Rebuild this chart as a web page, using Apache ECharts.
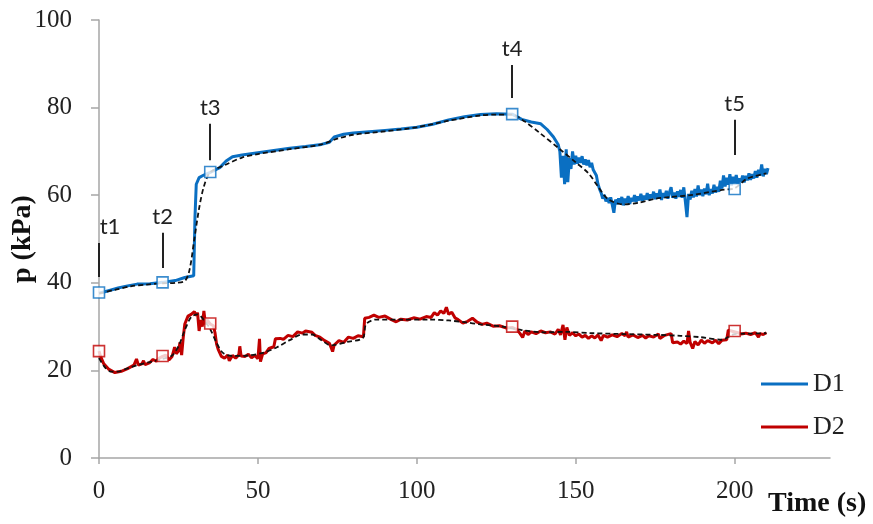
<!DOCTYPE html>
<html>
<head>
<meta charset="utf-8">
<script src="https://cdn.jsdelivr.net/npm/echarts@6/dist/echarts.min.js"></script>
<style>
  html, body { margin: 0; padding: 0; background: #fff; }
  #chart { width: 873px; height: 524px; }
</style>
</head>
<body>
<div id="chart"></div>
<script>
// measured D1 pressure, [time s, kPa]
const d1Raw = [
  [0,37.6],[3,38.2],[6,38.8],[9,39.3],[12,39.7],[16,39.8],[20,40.1],[24,40.5],[27,41.2],[29.8,41.6],
  [30.2,55],[30.6,62.5],[31.5,64],[33,64.6],[35,65.2],[38,66.3],[40,67.8],[42,68.8],[45,69.2],[50,69.7],
  [55,70.2],[60,70.7],[65,71.1],[70,71.6],[72.5,72.1],[74,73.3],[77,73.9],[80,74.2],[85,74.5],[90,74.8],
  [95,75.1],[100,75.5],[105,76.2],[110,77.2],[115,77.9],[120,78.4],[125,78.6],[130,78.5],[133,77.3],
  [136,76.7],[139,76.3],[141,75],[143,73.3],[144.5,71.5],[145,70],[145.5,64],[146,69],[146.5,62.5],
  [147,70.5],[147.5,63],[148,68.5],[148.5,66],[149,70],[149.5,67],[150,69],[150.5,67.2],[151,68.6],
  [151.5,67.4],[152,68.9],[152.5,67],[153,68.2],[153.5,66.8],[154,68],[154.5,66.4],[155,67.4],
  [155.5,65.8],[156,66.2],[156.5,64.5],[157,62.5],[157.5,61.4],
  [158,60.5],[158.5,59.2],[159,60.1],[159.5,58.6],[160,59.4],[160.5,58.2],[161,59.5],[161.5,57.8],
  [162,56],[162.5,59],[163,57.9],[163.5,59.3],[164,58.1],[164.5,59.6],[165,57.7],[165.5,59.2],
  [166,58.3],[166.5,59.8],[167,58],[167.5,59.4],[168,58.6],[168.5,60],[169,58.4],[169.5,59.7],
  [170,58.8],[170.5,60.3],[171,58.7],[171.5,59.9],[172,59],[172.5,60.5],[173,58.9],[173.5,60.2],
  [174,59.3],[174.5,60.8],[175,59.1],[175.5,60.4],[176,59.4],[176.5,61.3],[177,58.9],[177.5,60.5],
  [178,59.5],[178.5,61],[179,59.2],[179.5,60.7],[180,61.8],[180.5,59.4],[181,60.6],[181.5,59.2],
  [182,60.9],[182.5,59.6],[183,61.2],[183.5,59.4],[184,61.8],[184.5,58.5],[185,55],[185.5,60.3],
  [186,59],[186.5,61],[187,59.5],[187.5,61.4],[188,59.7],[188.5,62.2],[189,60],[189.5,61.3],
  [190,59.8],[190.5,61.5],[191,60.2],[191.5,62.6],[192,60],[192.5,61.4],[193,60.4],[193.5,62.4],
  [194,60.6],[194.5,61.9],[195,60.8],[195.5,63.3],[196,61.5],[196.5,64.5],[197,62],[197.5,64],
  [198,62.4],[198.5,64.8],[199,62.2],[199.5,64.2],[200,62.8],[200.5,64.6],[201,62.6],[201.5,63.8],
  [202,63],[202.5,64.5],[203,62.9],[203.5,64.4],[204,63.4],[204.5,65],[205,63.5],[205.5,64.8],
  [206,63.8],[206.5,65.5],[207,64],[207.5,65.8],[208,64.5],[208.5,67],[209,64.3],[209.5,66],
  [210,64.8],[210.5,66.2]
];

// fitted D1 trend (dashed)
const d1Fit = [
  [0,37.6],[5,38.4],[10,39.2],[15,39.6],[20,39.9],[24,40],[27,40.4],[28.5,43],[30,50],[31.5,57],
  [33,62],[35,65.2],[40,67],[45,68.6],[50,69.4],[60,70.5],[70,71.6],[75,72.9],[80,73.8],[90,74.6],
  [100,75.5],[110,77],[120,78.2],[125,78.4],[130,78.4],[134,76.8],[138.7,74.2],[145,70.5],[150,67.5],
  [154,65],[157,62],[160,59.2],[165,57.9],[170,58.3],[175,59.2],[180,59.6],[186,60],[196,61.2],
  [200,61.6],[204,63.8],[210,65]
];

// measured D2 pressure
const d2Raw = [
  [0,24.4],[0.5,23.2],[1.5,21.5],[3,20.3],[5,19.5],[7,19.8],[9,20.4],[11,21.2],[11.8,22.6],[12.4,21.2],
  [13.5,21.5],[14,22.2],[14.5,21.3],[16,21.8],[17,22.5],[18,22.1],[19,22.8],[20,23.2],[21,23.5],[22,22.4],
  [23,23.2],[23.8,25.3],[24.3,23.8],[25,24.4],[25.5,26.4],[26,23.5],[26.5,27.5],[27,30.6],[28,32.4],
  [29,32.8],[30,33.4],[30.6,32.5],[31,33.2],[31.5,29],[32,31.5],[32.5,30],[33,33.6],[33.5,30.5],[34,31.5],
  [35,30.6],[36,30.2],[36.5,28.6],[37,26],[37.5,24.8],[38.5,23.2],[39.5,22.8],[40.5,23.5],[41,22.2],
  [42,23.4],[43,22.8],[44,23.6],[44.3,25.5],[44.7,23.3],[46,23.2],[47,23.7],[48,22.9],[49,23.4],[50,22.7],
  [50.5,27.2],[50.8,22],[51.5,23.8],[52.5,24],[53.5,25],[55,25.4],[55.5,27.2],[57,27.3],[58,27.1],
  [59.5,28],[61,27.7],[62.5,28.8],[64,28.5],[65,29],[67,28.7],[68,28],[69.5,27.6],[71,26.8],[72.5,26.2],
  [73.5,24.3],[74,25.8],[75.5,26.8],[77,26.4],[78.5,27.6],[80,27.3],[81.5,27.9],[83.2,27.7],[83.6,31.9],
  [85,32.1],[86.5,32.6],[88,32.1],[90,32.4],[92,31.6],[93.5,31.1],[95,31.7],[97,31.5],[99,32],[101,31.7],
  [103,32.3],[104.5,32.1],[105.5,33.2],[106.5,32.6],[107.5,33.6],[108.5,33],[109.3,34.4],[110,32.8],
  [111,33.3],[112,32],[113,31.6],[114.5,30.8],[116,31.2],[117.5,31.9],[119,31],[120.5,30.5],[122,30.8],
  [124,30.1],[126,30.2],[128,29.7],[130,29.8],[131.5,29.3],[132.5,28.4],[133.3,27.5],[134,29],[135,28.2],
  [136,28.8],[137.5,28.4],[139,29],[140.5,28.6],[142,28.8],[143.5,28.3],[144.5,29.4],[145.2,28.1],
  [146,30.4],[146.6,27],[147.2,29.8],[148,28],[149,28.6],[150,27.9],[151,28.3],[152,27.6],[153,28],
  [154,27.3],[155,27.9],[156,27.4],[157,28.1],[158,26.8],[158.7,28],[160,27.6],[161.5,28.1],[163,27.7],
  [164.5,28.4],[165.5,27.9],[166,28.8],[166.5,27.6],[168,28.1],[169.5,27.5],[171,28],[172,27.4],
  [173,27.9],[174.5,27.6],[176,28.3],[176.5,27.3],[178,28],[180,28.4],[180.5,26.3],[182,26.5],[183,26],
  [184,26.7],[185,26.1],[185.5,29],[186,26.4],[186.8,25],[187.5,26.6],[188.5,25.8],[189.5,26.9],
  [190.5,26.2],[191.5,26.8],[193,26.3],[194,26.9],[195,26.1],[196,26.9],[197.5,27],[198,29.2],[199,29],
  [201,28.6],[202,28.3],[203.5,28.5],[205,28.2],[206.5,28.6],[207.5,27.6],[208,28.4],[209,28.2],[210,28.6]
];

// fitted D2 trend (dashed)
const d2Fit = [
  [0,22.8],[2,20.6],[4,19.7],[6,19.7],[8,20.2],[12,21.2],[16,21.9],[20,22.6],[23,23.4],[25,25.5],
  [27,29.2],[29,32.2],[31,32.8],[33,31.5],[35,29.4],[37,26.3],[39,24],[42,23.3],[47,23.4],[52,24.1],
  [56,25.3],[60,26.9],[64,28.2],[67,28.2],[70,26.9],[73,25.7],[78,26.5],[83,27.4],[84,30.5],[87,31.6],
  [95,31.6],[104,31.6],[110,31.4],[115,31],[120,30.5],[127,30],[133,29.2],[140,28.7],[147,28.8],
  [155,28.5],[165,28.3],[176,28.1],[183,27.9],[189,27.6],[196,27],[200,28.3],[205,28.4],[210,28.5]
];

// hollow square markers at t1..t5
const markTimes = [0, 20, 35, 130, 200];
const d1Marks = [37.8, 40.1, 65.3, 78.5, 61.4];
const d2Marks = [24.4, 23.3, 30.7, 30.0, 29.0];

// t1..t5 annotation ticks (values in kPa)
const tNames = ["t1", "t2", "t3", "t4", "t5"];
const tLow = [41.3, 43.4, 68.0, 82.2, 69.2];
const tHigh = [49.1, 51.4, 76.3, 89.7, 77.2];

const xTicks = [0, 50, 100, 150, 200];

const blue = "#0a6fc2";
const red = "#c00000";
const serif = "'Liberation Serif', 'Times New Roman', serif";

const chart = echarts.init(document.getElementById("chart"));

const tLines = tNames.map(function (n, i) {
  return [
    { coord: [markTimes[i], tLow[i]] },
    {
      coord: [markTimes[i], tHigh[i]],
      label: { formatter: n, offset: i === 0 ? [11, 0] : [0, 0] }
    }
  ];
});

chart.setOption({
  animation: false,
  grid: { left: 99, right: 43, top: 20, bottom: 66, containLabel: false, outerBoundsMode: "none" },
  legend: {
    data: ["D1", "D2"],
    orient: "vertical",
    left: 756,
    top: 366,
    icon: "rect",
    itemWidth: 47,
    itemHeight: 3,
    itemGap: 17,
    textStyle: { fontFamily: serif, fontSize: 26, color: "#222" }
  },
  xAxis: {
    type: "value",
    min: 0,
    max: 230,
    interval: 50,
    splitLine: { show: false },
    axisLine: { lineStyle: { color: "#a6a6a6", width: 1.5 } },
    axisTick: { length: 6, lineStyle: { color: "#a6a6a6", width: 1.5 }, customValues: xTicks },
    axisLabel: { customValues: xTicks, fontFamily: serif, fontSize: 25, color: "#222", margin: 21 },
    name: "Time (s)",
    nameLocation: "end",
    nameGap: -62,
    nameMoveOverlap: false,
    nameTextStyle: {
      fontFamily: serif, fontSize: 28, fontWeight: "bold", color: "#111",
      align: "left", verticalAlign: "top", padding: [32, 0, 0, 0]
    }
  },
  yAxis: {
    type: "value",
    min: 0,
    max: 100,
    interval: 20,
    splitLine: { show: false },
    axisLine: { show: true, lineStyle: { color: "#a6a6a6", width: 1.5 } },
    axisTick: { show: true, length: 8, lineStyle: { color: "#a6a6a6", width: 1.5 } },
    axisLabel: { fontFamily: serif, fontSize: 25, color: "#222", margin: 27 },
    name: "p (kPa)",
    nameLocation: "middle",
    nameGap: 62,
    nameMoveOverlap: false,
    nameTextStyle: { fontFamily: serif, fontSize: 28, fontWeight: "bold", color: "#111" }
  },
  series: [
    {
      name: "D1",
      type: "line",
      data: d1Raw,
      symbol: "none",
      color: blue,
      lineStyle: { color: blue, width: 3 }
    },
    {
      name: "D2",
      type: "line",
      data: d2Raw,
      symbol: "none",
      color: red,
      lineStyle: { color: red, width: 3 }
    },
    {
      name: "D1 fit",
      type: "line",
      data: d1Fit,
      symbol: "none",
      smooth: 0.3,
      lineStyle: { color: "#111", width: 1.8, type: [5, 3] }
    },
    {
      name: "D2 fit",
      type: "line",
      data: d2Fit,
      symbol: "none",
      smooth: 0.3,
      lineStyle: { color: "#111", width: 1.8, type: [5, 3] }
    },
    {
      name: "D1 marks",
      type: "scatter",
      data: markTimes.map(function (t, i) { return [t, d1Marks[i]]; }),
      symbol: "rect",
      symbolSize: 11,
      z: 5,
      itemStyle: { color: "#fff", borderColor: blue, borderWidth: 1.6 },
      markLine: {
        silent: true,
        symbol: "none",
        animation: false,
        lineStyle: { color: "#222", width: 2, type: "solid" },
        label: {
          show: true,
          position: "end",
          distance: 5,
          fontFamily: "Lato, 'Open Sans', sans-serif",
          fontSize: 22,
          color: "#222"
        },
        data: tLines
      }
    },
    {
      name: "D2 marks",
      type: "scatter",
      data: markTimes.map(function (t, i) { return [t, d2Marks[i]]; }),
      symbol: "rect",
      symbolSize: 11,
      z: 5,
      itemStyle: { color: "#fff", borderColor: red, borderWidth: 1.6 }
    }
  ]
});
</script>
</body>
</html>
